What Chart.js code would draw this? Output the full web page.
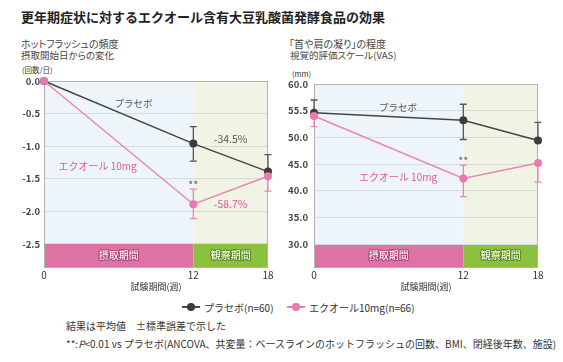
<!DOCTYPE html>
<html><head><meta charset="utf-8">
<script src="https://cdn.jsdelivr.net/npm/chart.js@4.4.1/dist/chart.umd.min.js"></script>
<style>
body{margin:0;width:563px;height:362px;background:#fff;font-family:"Noto Sans CJK JP",sans-serif;position:relative;overflow:hidden}
.t{position:absolute;white-space:nowrap;line-height:1}
.p{font-feature-settings:"palt"}
canvas{position:absolute}
.lg{position:absolute;top:301px;height:12px;display:flex;align-items:center;font-size:10px;color:#333;white-space:nowrap}
.mk{position:relative;width:18px;height:12px;margin-right:4px}
.mk i{position:absolute;left:0;right:0;top:5px;height:2px}
.mk b{position:absolute;left:5px;top:2px;width:8px;height:8px;border-radius:50%}
</style></head><body>
<div class="t" style="left:21px;top:10px;font-size:13px;font-weight:bold;color:#222">更年期症状に対するエクオール含有大豆乳酸菌発酵食品の効果</div>
<div class="t p" style="left:21px;top:39px;font-size:10px;color:#444">ホットフラッシュの頻度</div>
<div class="t p" style="left:21px;top:51px;font-size:9.5px;color:#444">摂取開始日からの変化</div>
<div class="t p" style="left:22px;top:66px;font-size:7.5px;color:#333">(回数/日)</div>
<div class="t p" style="left:289px;top:39px;font-size:10px;color:#444">「首や肩の凝り」の程度</div>
<div class="t p" style="left:290px;top:51px;font-size:9.5px;color:#444">視覚的評価スケール(VAS)</div>
<div class="t" style="left:292px;top:70px;font-size:7.5px;color:#333">(mm)</div>
<canvas id="c1" width="282" height="225" style="left:0;top:70px;width:282px;height:225px"></canvas>
<canvas id="c2" width="281" height="225" style="left:282px;top:70px;width:281px;height:225px"></canvas>
<div id="legend"></div>
<div class="t" style="left:66px;top:321px;font-size:10px;color:#333">結果は平均値　±標準誤差で示した</div>
<div class="t" style="left:66px;top:339px;font-size:10px;color:#333">**:<i>P</i>&lt;0.01 vs プラセボ(ANCOVA、共変量：ベースラインのホットフラッシュの回数、BMI、閉経後年数、施設)</div>
<script>
// ---- data ----
const weeks = [0, 12, 18];
const xTickLabels = ['0', '12', '18'];
const xTitle = '試験期間(週)';
const seriesNames = ['プラセボ(n=60)', 'エクオール10mg(n=66)'];
const periods = ['摂取期間', '観察期間'];
const periodBounds = [0, 12, 18];

// hot flush frequency change (times/day)
const hfPlacebo   = [0.0, -0.96, -1.39];
const hfPlaceboHi = [null, -0.70, -1.13];
const hfPlaceboLo = [null, -1.23, null];
const hfEquol     = [0.0, -1.89, -1.46];
const hfEquolHi   = [null, -1.66, null];
const hfEquolLo   = [null, -2.11, -1.69];
const hfTicks      = [0, -0.5, -1.0, -1.5, -2.0, -2.5];
const hfTickLabels = ['0.0', '-0.5', '-1.0', '-1.5', '-2.0', '-2.5'];

// neck/shoulder stiffness VAS (mm)
const vasPlacebo   = [54.6, 53.2, 49.4];
const vasPlaceboHi = [57.0, 56.2, 52.8];
const vasPlaceboLo = [null, 49.6, null];
const vasEquol     = [54.0, 42.3, 45.2];
const vasEquolHi   = [null, 44.8, null];
const vasEquolLo   = [52.0, 38.9, 41.6];
const vasTicks      = [60, 55, 50, 45, 40, 35, 30];
const vasTickLabels = ['60.0', '55.5', '50.0', '45.0', '40.0', '35.0', '30.0'];

const hfNotes = [
  {text: 'プラセボ', x: 7.2, y: -0.35, color: '#555', size: 9.5},
  {text: 'エクオール 10mg', x: 4.3, y: -1.31, color: '#e0589a', size: 10},
  {text: '-34.5%', x: 15.0, y: -0.89, color: '#555', size: 10.5},
  {text: '-58.7%', x: 15.0, y: -1.89, color: '#e0589a', size: 10.5},
  {text: '**', x: 12, y: -1.59, color: '#666', size: 11}
];
const vasNotes = [
  {text: 'プラセボ', x: 6.75, y: 55.7, color: '#555', size: 9.5},
  {text: 'エクオール 10mg', x: 6.75, y: 42.6, color: '#e0589a', size: 10},
  {text: '**', x: 12, y: 45.6, color: '#666', size: 11}
];

const FONT = '"Noto Sans CJK JP", sans-serif';
const DARK = '#454545', PINK = '#e986b5', PINKPT = '#e77aae';

const decor = {
  id: 'decor',
  beforeDraw(chart, args, o) {
    const {ctx, chartArea: a, scales: {x, y}} = chart;
    const xs = periodBounds.map(v => x.getPixelForValue(v));
    const yb = y.getPixelForValue(o.bandTop);
    ctx.save();
    ctx.fillStyle = '#edf5fb'; ctx.fillRect(xs[0], a.top, xs[1] - xs[0], yb - a.top);
    ctx.fillStyle = '#f1f4e4'; ctx.fillRect(xs[1], a.top, xs[2] - xs[1], yb - a.top);
    ctx.fillStyle = '#dd72a4'; ctx.fillRect(xs[0], yb, xs[1] - xs[0], a.bottom - yb);
    ctx.fillStyle = '#8cc13f'; ctx.fillRect(xs[1], yb, xs[2] - xs[1], a.bottom - yb);
    ctx.font = '10px ' + FONT;
    ctx.textAlign = 'center'; ctx.textBaseline = 'middle';
    const cy = (yb + a.bottom) / 2;
    const strokes = ['#b24a7c', '#5f8f22'];
    periods.forEach((p, i) => {
      const cx = (xs[i] + xs[i + 1]) / 2;
      ctx.lineWidth = 2.2; ctx.strokeStyle = strokes[i]; ctx.lineJoin = 'round';
      ctx.strokeText(p, cx, cy);
      ctx.fillStyle = '#fff'; ctx.fillText(p, cx, cy);
    });
    ctx.restore();
  },
  beforeDatasetsDraw(chart, args, o) {
    const {ctx, chartArea: a, scales: {x, y}} = chart;
    ctx.save();
    ctx.strokeStyle = '#b3b3b3'; ctx.lineWidth = 1;
    ctx.strokeRect(a.left + 0.5, a.top + 0.5, a.right - a.left - 1, a.bottom - a.top);
    // error bars (placebo first, equol on top)
    [1, 0].forEach(di => {
      const ds = chart.data.datasets[di];
      ctx.strokeStyle = ds.errColor; ctx.lineWidth = 1.3;
      ds.data.forEach((pt, i) => {
        const px = x.getPixelForValue(pt.x);
        const py = y.getPixelForValue(pt.y);
        [ds.errHi[i], ds.errLo[i]].forEach(v => {
          if (v === null || v === undefined) return;
          const ey = y.getPixelForValue(v);
          ctx.beginPath();
          ctx.moveTo(px, py); ctx.lineTo(px, ey);
          ctx.moveTo(px - 3.5, ey); ctx.lineTo(px + 3.5, ey);
          ctx.stroke();
        });
      });
    });
    ctx.restore();
  },
  afterDatasetsDraw(chart, args, o) {
    const {ctx, scales: {x, y}} = chart;
    ctx.save();
    ctx.textAlign = 'center'; ctx.textBaseline = 'middle';
    o.notes.forEach(n => {
      ctx.font = (n.weight || 'normal') + ' ' + n.size + 'px ' + FONT;
      ctx.fillStyle = n.color;
      ctx.fillText(n.text, x.getPixelForValue(n.x), y.getPixelForValue(n.y));
    });
    ctx.restore();
  }
};

function makeChart(id, c) {
  const pts = arr => weeks.map((w, i) => ({x: w, y: arr[i]}));
  return new Chart(document.getElementById(id), {
    type: 'line',
    data: {
      datasets: [
        {label: seriesNames[0], data: pts(c.p), errHi: c.pHi, errLo: c.pLo, errColor: '#555',
         borderColor: DARK, backgroundColor: '#3c3c3c', pointBackgroundColor: '#3c3c3c',
         pointBorderWidth: 0, pointRadius: 4, borderWidth: 1.5, order: 2, clip: false},
        {label: seriesNames[1], data: pts(c.e), errHi: c.eHi, errLo: c.eLo, errColor: PINK,
         borderColor: PINK, backgroundColor: PINKPT, pointBackgroundColor: PINKPT,
         pointBorderWidth: 0, pointRadius: 4, borderWidth: 1.5, order: 1, clip: false}
      ]
    },
    options: {
      responsive: false, animation: false, events: [],
      layout: {padding: {top: c.padTop, right: c.padRight, left: 0, bottom: 0}},
      plugins: {legend: {display: false}, tooltip: {enabled: false},
        decor: {bandTop: c.ticks[c.ticks.length - 1], notes: c.notes}},
      scales: {
        x: {
          type: 'linear', min: weeks[0], max: weeks[weeks.length - 1],
          afterBuildTicks: s => { s.ticks = weeks.map(v => ({value: v})); },
          ticks: {callback: (v, i) => xTickLabels[i], autoSkip: false, maxRotation: 0,
                  font: {family: FONT, size: 10}, color: '#333', padding: 2},
          grid: {display: false, drawTicks: false}, border: {display: false},
          title: {display: true, text: xTitle, font: {family: FONT, size: 9}, color: '#333',
                  padding: {top: 0, bottom: 2.6}},
          afterFit: s => { s.height = 28; }
        },
        y: {
          min: c.min, max: c.max,
          afterBuildTicks: s => { s.ticks = c.ticks.map(v => ({value: v})); },
          ticks: {callback: (v, i) => c.tickLabels[i], autoSkip: false,
                  font: {family: FONT, size: 9.5, weight: 'bold'}, color: '#444', padding: c.tickPad},
          grid: {color: '#d6dadd', drawTicks: false, lineWidth: 1},
          border: {display: true, color: '#b3b3b3'},
          afterFit: s => { s.width = c.yw; }
        }
      }
    },
    plugins: [decor]
  });
}

makeChart('c1', {p: hfPlacebo, pHi: hfPlaceboHi, pLo: hfPlaceboLo, e: hfEquol, eHi: hfEquolHi, eLo: hfEquolLo,
  ticks: hfTicks, tickLabels: hfTickLabels, min: -2.853, max: 0, notes: hfNotes,
  padTop: 11, padRight: 14, yw: 44, tickPad: 4});
makeChart('c2', {p: vasPlacebo, pHi: vasPlaceboHi, pLo: vasPlaceboLo, e: vasEquol, eHi: vasEquolHi, eLo: vasEquolLo,
  ticks: vasTicks, tickLabels: vasTickLabels, min: 25.7, max: 60, notes: vasNotes,
  padTop: 14, padRight: 25, yw: 32, tickPad: 6});

// legend
const lgColors = [['#4a4a4a', '#3c3c3c'], [PINK, PINKPT]];
const lgLeft = [182, 287];
const lg = document.getElementById('legend');
seriesNames.forEach((n, i) => {
  const d = document.createElement('div');
  d.className = 'lg'; d.style.left = lgLeft[i] + 'px';
  d.innerHTML = '<span class="mk"><i style="background:' + lgColors[i][0] + '"></i><b style="background:' + lgColors[i][1] + '"></b></span>' + n;
  lg.appendChild(d);
});
</script>
</body></html>
